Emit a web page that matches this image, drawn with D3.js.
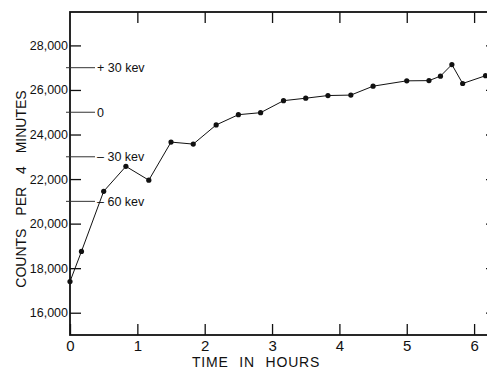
<!DOCTYPE html>
<html>
<head>
<meta charset="utf-8">
<script src="https://cdn.jsdelivr.net/npm/d3@7"></script>
<style>
  html, body { margin: 0; padding: 0; background: #fff; }
  svg { display: block; font-family: "Liberation Sans", Arial, sans-serif; }
</style>
</head>
<body>
<div id="chart"></div>
<script>
// hours since start
const times = [0, 0.17, 0.5, 0.83, 1.17, 1.5, 1.83, 2.17, 2.5, 2.83, 3.17,
               3.5, 3.83, 4.17, 4.5, 5.0, 5.33, 5.5, 5.67, 5.83, 6.17];
// counts per 4 minutes
const counts = [17400, 18750, 21450, 22570, 21950, 23660, 23570, 24430, 24890, 24980, 25520,
                25630, 25750, 25770, 26170, 26410, 26420, 26620, 27140, 26290, 26640];

const xTicks = [0, 1, 2, 3, 4, 5, 6];
const yTicks = [16000, 18000, 20000, 22000, 24000, 26000, 28000];

// energy reference marks on the left axis
const kevLevels = [27000, 25000, 23000, 21000];
const kevLabels = ["+ 30 kev", "0", "\u2013 30 kev", "\u2013 60 kev"];

const W = 487, H = 369;
const margin = { top: 12, right: -10, bottom: 34, left: 70 };
const ink = "#111";

const svg = d3.select("#chart").append("svg")
  .attr("width", W)
  .attr("height", H);

const x = d3.scaleLinear()
  .domain([0, 6.34])
  .range([margin.left, W - margin.right]);

const y = d3.scaleLinear()
  .domain([15000, 29500])
  .range([H - margin.bottom, margin.top]);

const fmt = d3.format(",");

// frame
svg.append("rect")
  .attr("x", x(0)).attr("y", y(29500))
  .attr("width", x(6.34) - x(0))
  .attr("height", y(15000) - y(29500))
  .attr("fill", "none")
  .attr("stroke", ink)
  .attr("stroke-width", 1.8);

// Bottom axis (ticks pointing in)
const xAxis = svg.append("g")
  .attr("transform", `translate(0,${y(15000)})`)
  .call(d3.axisBottom(x).tickValues(xTicks).tickSize(-11).tickPadding(5).tickFormat(d3.format("d")));
xAxis.select(".domain").remove();
xAxis.selectAll("line").attr("stroke", ink).attr("stroke-width", 1.3);
xAxis.selectAll("text").attr("fill", ink).style("font-size", "15px");

// Top axis, ticks only
const xTop = svg.append("g")
  .attr("transform", `translate(0,${y(29500)})`)
  .call(d3.axisTop(x).tickValues(xTicks.slice(1)).tickSize(-11).tickFormat(""));
xTop.select(".domain").remove();
xTop.selectAll("line").attr("stroke", ink).attr("stroke-width", 1.3);

// Left axis
const yAxis = svg.append("g")
  .attr("transform", `translate(${x(0)},0)`)
  .call(d3.axisLeft(y).tickValues(yTicks).tickSize(-11).tickPadding(2).tickFormat(fmt));
yAxis.select(".domain").remove();
yAxis.selectAll("line").attr("stroke", ink).attr("stroke-width", 1.3);
yAxis.selectAll("text").attr("fill", ink).style("font-size", "12.5px");

// Right axis, ticks only
const yRight = svg.append("g")
  .attr("transform", `translate(${x(6.34)},0)`)
  .call(d3.axisRight(y).tickValues(yTicks).tickSize(-11).tickFormat(""));
yRight.select(".domain").remove();
yRight.selectAll("line").attr("stroke", ink).attr("stroke-width", 1.3);

// keV marks
const kev = svg.selectAll(".kev")
  .data(kevLevels)
  .enter().append("g")
  .attr("class", "kev");

kev.append("line")
  .attr("x1", x(0) - 4)
  .attr("x2", x(0) + 25)
  .attr("y1", d => y(d))
  .attr("y2", d => y(d))
  .attr("stroke", "#333")
  .attr("stroke-width", 1);

kev.append("text")
  .attr("x", x(0) + 27)
  .attr("y", d => y(d))
  .attr("dy", "0.35em")
  .attr("fill", ink)
  .style("font-size", "12.5px")
  .text((d, i) => kevLabels[i]);

// data line
const pts = times.map((t, i) => [t, counts[i]]);

svg.append("path")
  .datum(pts)
  .attr("fill", "none")
  .attr("stroke", ink)
  .attr("stroke-width", 1)
  .attr("d", d3.line().x(d => x(d[0])).y(d => y(d[1])));

svg.selectAll(".dot")
  .data(pts)
  .enter().append("circle")
  .attr("class", "dot")
  .attr("cx", d => x(d[0]))
  .attr("cy", d => y(d[1]))
  .attr("r", 2.6)
  .attr("fill", ink);

// axis titles
svg.append("text")
  .attr("x", 256)
  .attr("y", 367)
  .attr("text-anchor", "middle")
  .attr("fill", ink)
  .style("font-size", "14px")
  .style("letter-spacing", "0.8px")
  .style("word-spacing", "6px")
  .text("TIME IN HOURS");

svg.append("text")
  .attr("transform", `translate(26,189) rotate(-90)`)
  .attr("text-anchor", "middle")
  .attr("fill", ink)
  .style("font-size", "14px")
  .style("word-spacing", "9px")
  .text("COUNTS PER 4 MINUTES");
</script>
</body>
</html>
